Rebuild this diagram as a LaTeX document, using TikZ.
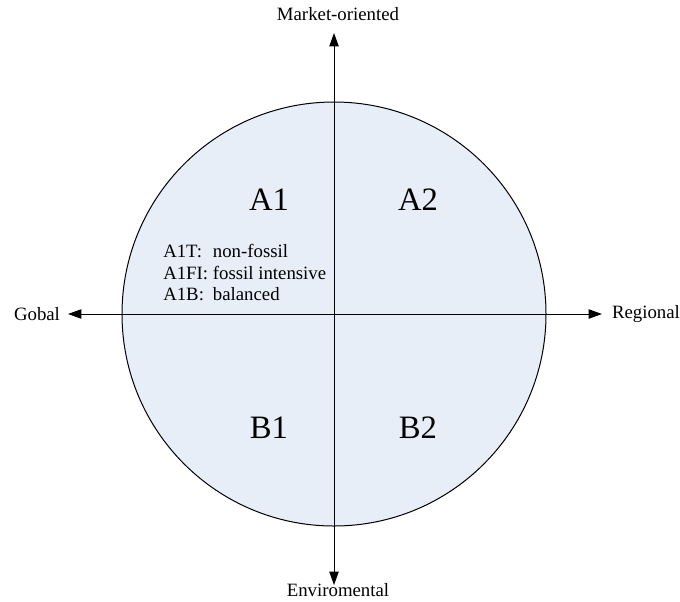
\documentclass[tikz,border=0pt]{standalone}
\usepackage{fontspec}
\setmainfont{Liberation Serif}
\usetikzlibrary{arrows.meta}
\definecolor{discfill}{HTML}{E8EEF8}
\begin{document}
\begin{tikzpicture}[x=0.75pt,y=-0.75pt,
  axis/.style={line width=0.75pt,-{Triangle[length=10pt,width=7pt]}},
  axislabel/.style={font=\fontsize{14.1}{16}\selectfont,inner sep=0pt},
  quadrant/.style={font=\fontsize{24.5}{28}\selectfont,inner sep=0pt},
  note/.style={font=\fontsize{14.1}{16.2}\selectfont,inner sep=0pt,anchor=west}]
  \useasboundingbox (0,0) rectangle (680,601);
  % shaded disc
  \draw[line width=0.75pt,fill=discfill] (334,314) circle[radius=212];
  % axis end points and centre
  \coordinate (c) at (334,314);
  \coordinate (top) at (334,33);
  \coordinate (bot) at (334,585);
  \coordinate (lft) at (68,314);
  \coordinate (rgt) at (602,314);
  \draw[axis] (c) -- (top);
  \draw[axis] (c) -- (bot);
  \draw[axis] (c) -- (lft);
  \draw[axis] (c) -- (rgt);
  % axis labels
  \node[axislabel] (mo) at (338,14) {Market-oriented};
  \node[axislabel] (env) at (338,590) {Enviromental};
  \node[axislabel] (gob) at (37,314) {Gobal};
  \node[axislabel] (reg) at (646,314) {Regional};
  % quadrant labels
  \node[quadrant] (a1) at (269,200) {A1};
  \node[quadrant] (a2) at (418,200) {A2};
  \node[quadrant] (b1) at (269,428) {B1};
  \node[quadrant] (b2) at (418,428) {B2};
  % A1 sub-scenarios
  \node[note] (a1notes) at (163,275) {\begin{tabular}{@{}l@{\ }l@{}}
    A1T: & non-fossil\\
    A1FI: & fossil intensive\\
    A1B: & balanced
  \end{tabular}};
\end{tikzpicture}
\end{document}
